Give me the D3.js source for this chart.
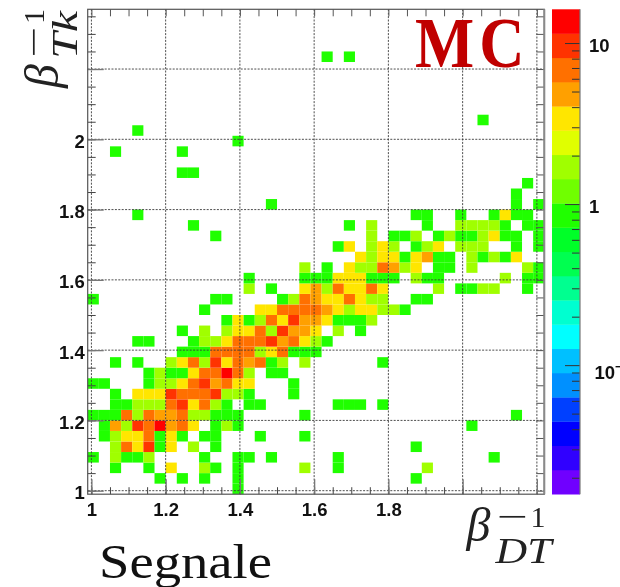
<!DOCTYPE html>
<html>
<head>
<meta charset="utf-8">
<script src="https://cdn.jsdelivr.net/npm/d3@7"></script>
<style>
html,body{margin:0;padding:0;background:#fff;overflow:hidden}
svg{display:block;filter:blur(0.35px)}
</style>
</head>
<body>
<svg id="chart" width="620" height="587"></svg>
<script>
// Histogram binning
const binStart = 0.99, binWidth = 0.03, binsX = 41, binsY = 46;
// Tick values and labels
const xMajor = [1, 1.2, 1.4, 1.6, 1.8, 2, 2.2];
const yMajor = [1, 1.2, 1.4, 1.6, 1.8, 2, 2.2];
const xLabels = ["1", "1.2", "1.4", "1.6", "1.8"];
const yLabels = ["1", "1.2", "1.4", "1.6", "1.8", "2"];
const minorStep = [1,1.05,1.1,1.15,1.2,1.25,1.3,1.35,1.4,1.45,1.5,1.55,1.6,1.65,1.7,1.75,1.8,1.85,1.9,1.95,2,2.05,2.1,2.15,2.2,2.25,2.3,2.35];
const zRange = [0.0158, 16.2];
const zMajor = [0.1, 1, 10];
const zMinor = [0.02,0.03,0.04,0.05,0.06,0.07,0.08,0.09,0.2,0.3,0.4,0.5,0.6,0.7,0.8,0.9,2,3,4,5,6,7,8,9];
// 20 contour colours, lowest level first
const palette = ["#7000ff","#3000ff","#0000ff","#0040ff","#0090ff","#00c0ff","#00ffff","#00ffd0","#00ff90","#00ff50",
                 "#00ff28","#20ff00","#70ff00","#a0ff00","#e0ff00","#ffe600","#ffa000","#ff7000","#ff3300","#ff0000"];
// Counts per row: [row, [column, count, column, count, ...]]
const countRows = [
 [0,[13,1]],
 [1,[6,1,8,1,10,1,13,1,29,1]],
 [2,[2,1,5,1,7,3,10,2,11,1,13,1,19,2,22,1,30,2]],
 [3,[0,1,2,2,3,1,4,1,5,2,10,1,13,1,14,1,16,1,22,1,36,1]],
 [4,[2,2,3,6,4,3,5,9,6,1,7,3,9,2,11,1,29,1]],
 [5,[1,1,2,2,3,3,4,3,5,6,6,1,7,3,8,1,10,1,11,1,15,1,19,1]],
 [6,[1,1,2,5,3,2,4,9,5,6,6,12,7,5,8,6,9,3,11,1,12,2,13,1,34,1]],
 [7,[0,1,1,1,2,1,3,6,4,2,5,6,6,5,7,5,8,6,9,2,10,2,11,1,12,1,13,1,19,1,38,1]],
 [8,[2,1,3,1,4,2,5,2,6,2,7,6,8,9,9,3,10,6,11,2,12,1,14,1,15,1,22,1,23,1,24,1,26,1]],
 [9,[2,1,4,3,5,3,6,3,7,9,8,6,9,6,10,6,11,9,12,2,13,2,14,1,18,1]],
 [10,[0,1,1,1,5,1,6,2,7,2,8,3,9,6,10,9,11,5,12,6,13,3,14,3,18,1]],
 [11,[5,1,6,2,7,1,8,1,9,3,10,6,11,6,12,12,13,6,14,2,16,1,17,1]],
 [12,[2,1,4,1,7,2,8,3,9,6,10,2,11,9,12,3,13,6,14,5,15,6,16,1,17,2,19,2,26,1]],
 [13,[8,1,9,1,10,1,11,6,12,6,13,6,14,6,15,2,16,3,17,6,18,1,19,1,20,1]],
 [14,[4,1,5,1,9,1,10,2,11,2,12,3,13,6,14,6,15,6,16,9,17,5,18,6,19,3,20,2,21,1]],
 [15,[8,1,10,2,12,2,13,3,14,3,15,6,16,2,17,9,18,5,19,5,20,3,22,2,24,1]],
 [16,[12,1,13,3,14,1,15,2,16,6,17,3,18,9,19,5,20,5,21,3,22,1,23,1,24,1,25,2]],
 [17,[10,1,15,3,16,3,17,6,18,6,19,6,20,6,21,5,22,3,23,2,24,3,25,3,26,2,27,2,28,1]],
 [18,[0,1,11,1,12,1,17,1,18,2,19,6,20,5,21,3,22,3,23,6,24,3,25,2,26,2,29,1,30,1]],
 [19,[14,2,16,1,19,3,20,5,21,2,22,6,23,3,24,3,25,6,26,3,31,2,33,1,34,1,35,2,36,2,39,1]],
 [20,[14,1,19,1,20,1,21,1,22,3,23,3,24,3,25,1,26,1,27,1,29,2,30,1,31,1,37,2,39,1,40,1]],
 [21,[19,2,21,1,23,3,24,2,25,2,26,6,27,5,28,2,29,3,31,1,32,1,34,2,39,2,40,1]],
 [22,[24,3,25,2,26,3,27,3,28,1,29,3,30,5,31,1,32,1,34,2,35,1,36,2,37,1,38,3]],
 [23,[22,1,23,3,25,2,26,3,27,2,29,1,30,2,31,3,33,2,34,2,35,2,38,1,40,1]],
 [24,[11,1,25,2,27,1,28,1,29,2,31,1,32,2,33,1,34,1,35,2,36,3,37,1,38,1,40,1]],
 [25,[9,1,23,1,25,2,30,1,33,2,34,2,35,2,36,2,37,1,39,1,40,1]],
 [26,[4,1,29,1,30,1,33,1,36,1,37,3,38,1,39,1]],
 [27,[16,1,38,1,40,1]],
 [28,[38,1]],
 [29,[39,1]],
 [30,[8,1,9,1]],
 [32,[2,1,8,1]],
 [33,[13,1]],
 [34,[4,1]],
 [35,[35,1]],
 [41,[21,1,23,1]]
];

const L = 87.7, R = 544.3, T = 9.3, B = 494.2;
const svg = d3.select("#chart");
const sans = "'Liberation Sans', Arial, sans-serif";
const serif = "'Liberation Serif', 'Times New Roman', serif";

const x = d3.scaleLinear().domain([binStart, binStart + binsX * binWidth]).range([L, R]);
const y = d3.scaleLinear().domain([binStart, binStart + binsY * binWidth]).range([B, T]);
const z = d3.scaleLog().domain(zRange).range([B, T]);
const colour = d3.scaleQuantize().domain([Math.log10(zRange[0]), Math.log10(zRange[1])]).range(palette);

// Cells
const cells = countRows.flatMap(([row, pairs]) =>
  d3.range(0, pairs.length, 2).map(k => ({row, col: pairs[k], n: pairs[k + 1]})));
svg.append("g").selectAll("rect").data(cells).join("rect")
  .attr("x", d => x(binStart + d.col * binWidth))
  .attr("y", d => y(binStart + (d.row + 1) * binWidth))
  .attr("width", x(binWidth) - x(0))
  .attr("height", y(0) - y(binWidth))
  .attr("fill", d => colour(Math.log10(d.n)));

// Grid
const grid = svg.append("g").attr("stroke", "#3a3a3a").attr("stroke-width", 0.9).attr("stroke-dasharray", "2 1.4");
grid.selectAll("line.v").data(xMajor).join("line").attr("class", "v")
  .attr("x1", d => x(d)).attr("x2", d => x(d)).attr("y1", T).attr("y2", B);
grid.selectAll("line.h").data(yMajor).join("line").attr("class", "h")
  .attr("x1", L).attr("x2", R).attr("y1", d => y(d)).attr("y2", d => y(d));

// Axes: minor ticks on all four sides
function styleAxis(g, stroke, width) {
  g.select(".domain").remove();
  g.selectAll("line").attr("stroke", stroke).attr("stroke-width", width);
  return g;
}
const minorX = minorStep.filter(v => v <= 2.2);
svg.append("g").attr("transform", `translate(0,${B})`)
  .call(d3.axisBottom(x).tickValues(minorX).tickSize(-7).tickFormat(""))
  .call(styleAxis, "#444", 1);
svg.append("g").attr("transform", `translate(0,${T})`)
  .call(d3.axisTop(x).tickValues(minorX).tickSize(-7).tickFormat(""))
  .call(styleAxis, "#555", 1);
svg.append("g").attr("transform", `translate(${L},0)`)
  .call(d3.axisLeft(y).tickValues(minorStep).tickSize(-8).tickFormat(""))
  .call(styleAxis, "#444", 1);
svg.append("g").attr("transform", `translate(${R},0)`)
  .call(d3.axisRight(y).tickValues(minorStep).tickSize(-8).tickFormat(""))
  .call(styleAxis, "#555", 1);

// Axes: major ticks with labels
const gx = svg.append("g").attr("transform", `translate(0,${B})`)
  .call(d3.axisBottom(x).tickValues(xMajor).tickSize(-15).tickFormat(d => xLabels.find(s => +s === d) || ""))
  .call(styleAxis, "#777", 1.3);
gx.selectAll("text").attr("y", 22).attr("dy", 0).attr("fill", "#111")
  .attr("font-family", sans).attr("font-weight", "bold").attr("font-size", 18.5);
const gy = svg.append("g").attr("transform", `translate(${L},0)`)
  .call(d3.axisLeft(y).tickValues(yMajor).tickSize(-16).tickFormat(d => yLabels.find(s => +s === d) || ""))
  .call(styleAxis, "#777", 1.3);
gy.selectAll("text").attr("x", -3).attr("dy", 8).attr("fill", "#111").attr("text-anchor", "end")
  .attr("font-family", sans).attr("font-weight", "bold").attr("font-size", 18.5);

// Frame
svg.append("rect").attr("x", L).attr("y", T).attr("width", R - L).attr("height", B - T)
  .attr("fill", "none").attr("stroke", "#555").attr("stroke-width", 1.2);
svg.append("line").attr("x1", R).attr("x2", R).attr("y1", T).attr("y2", B).attr("stroke", "#8a8a8a").attr("stroke-width", 2);

// Colour bar
const barL = 552, barR = 580;
const bandH = (B - T) / palette.length;
svg.append("g").selectAll("rect").data(palette).join("rect")
  .attr("x", barL).attr("width", barR - barL)
  .attr("y", (d, i) => B - (i + 1) * bandH).attr("height", bandH + 0.3)
  .attr("fill", d => d);
const gz = svg.append("g").attr("transform", `translate(${barR},0)`);
gz.call(d3.axisRight(z).tickValues(zMinor).tickSize(-8).tickFormat("")).call(styleAxis, "#333", 1);
const gzM = svg.append("g").attr("transform", `translate(${barR},0)`)
  .call(d3.axisRight(z).tickValues(zMajor).tickSize(-15).tickFormat(d => d === 0.1 ? "" : String(d)))
  .call(styleAxis, "#333", 1);
gzM.selectAll("text").attr("x", 9).attr("dy", 8.5).attr("fill", "#111").attr("text-anchor", "start")
  .attr("font-family", sans).attr("font-weight", "bold").attr("font-size", 18.5);
svg.append("line").attr("x1", barR).attr("x2", barR).attr("y1", T).attr("y2", B).attr("stroke", "#777").attr("stroke-width", 1.2);
const exp = svg.append("text").attr("x", 594.5).attr("y", z(0.1) + 13.5).attr("fill", "#111")
  .attr("font-family", sans).attr("font-weight", "bold").attr("font-size", 18.5);
exp.append("tspan").text("10");
exp.append("tspan").attr("dy", -8).attr("font-size", 13).text("\u22121");

// Overlay text
svg.append("text").attr("transform", "translate(415,67) scale(0.87,1)").attr("fill", "#c00000")
  .attr("font-family", serif).attr("font-weight", "bold").attr("font-size", 72)
  .attr("letter-spacing", 6).text("MC");
svg.append("text").attr("x", 99).attr("y", 578).attr("fill", "#111")
  .attr("font-family", serif).attr("font-size", 48)
  .attr("textLength", 173).attr("lengthAdjust", "spacingAndGlyphs").text("Segnale");

// Math axis titles
function mathTitle(transform, sub, subLen, subOffset) {
  const g = svg.append("g").attr("transform", transform).attr("fill", "#222").attr("font-family", serif);
  g.append("text").attr("font-style", "italic").attr("font-size", 48).text("\u03b2");
  g.append("text").attr("x", 30).attr("y", -13).attr("font-size", 34)
    .attr("textLength", 31).attr("lengthAdjust", "spacingAndGlyphs").text("\u2212");
  g.append("text").attr("x", 64).attr("y", -14).attr("font-size", 30).text("1");
  g.append("text").attr("x", 29).attr("y", subOffset).attr("font-style", "italic").attr("font-size", 35)
    .attr("textLength", subLen).attr("lengthAdjust", "spacingAndGlyphs").text(sub);
}
mathTitle("translate(466.5,541)", "DT", 56, 22);
mathTitle("translate(58,88) rotate(-90)", "Tk", 48, 19);
</script>
</body>
</html>
